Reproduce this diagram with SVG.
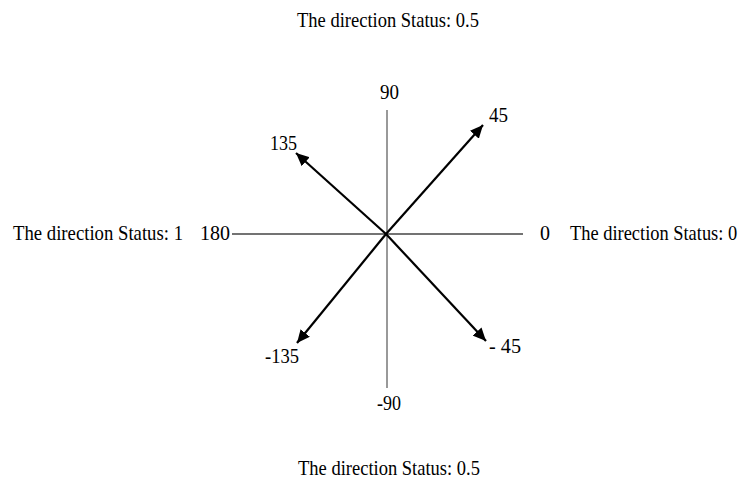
<svg xmlns="http://www.w3.org/2000/svg" width="746" height="483" viewBox="0 0 746 483">
<style>
text{font-family:"Liberation Serif","Times New Roman",serif;font-size:22px;fill:#000}
.axis{stroke:#777;stroke-width:1.5;fill:none}
.axh{stroke:#444;stroke-width:1.5;fill:none}
.arr{stroke:#000;stroke-width:2.2;fill:none;marker-end:url(#ah)}
</style>
<defs>
<marker id="ah" markerUnits="userSpaceOnUse" markerWidth="14" markerHeight="12" refX="13" refY="6" orient="auto">
<path d="M0,0 L13,6 L0,12 Z" fill="#000"/>
</marker>
</defs>
<g id="connectors">
<line class="axis" x1="387" y1="110" x2="387" y2="388"/>
<line class="axh" x1="232" y1="234" x2="523" y2="234"/>
<line class="arr" x1="386" y1="234" x2="483" y2="125"/>
<line class="arr" x1="386" y1="234" x2="296" y2="153"/>
<line class="arr" x1="386" y1="234" x2="297" y2="343"/>
<line class="arr" x1="386" y1="234" x2="486" y2="341"/>
</g>
<g id="label-90"><text x="380" y="99" textLength="19" lengthAdjust="spacingAndGlyphs">90</text></g>
<g id="label-45"><text x="489" y="122" textLength="19" lengthAdjust="spacingAndGlyphs">45</text></g>
<g id="label-135"><text x="270" y="150" textLength="27" lengthAdjust="spacingAndGlyphs">135</text></g>
<g id="label-180"><text x="200" y="240" textLength="30" lengthAdjust="spacingAndGlyphs">180</text></g>
<g id="label-0"><text x="540" y="240" textLength="10" lengthAdjust="spacingAndGlyphs">0</text></g>
<g id="label-m135"><text x="265" y="363" textLength="34" lengthAdjust="spacingAndGlyphs">-135</text></g>
<g id="label-m90"><text x="377" y="410" textLength="24" lengthAdjust="spacingAndGlyphs">-90</text></g>
<g id="label-m45"><text x="489" y="353" textLength="32" lengthAdjust="spacingAndGlyphs">- 45</text></g>
<g id="status-top"><text transform="translate(297,27) scale(0.88,1)" x="0" y="0" textLength="206.8" lengthAdjust="spacingAndGlyphs">The direction Status: 0.5</text></g>
<g id="status-bottom"><text transform="translate(298,475) scale(0.88,1)" x="0" y="0" textLength="206.8" lengthAdjust="spacingAndGlyphs">The direction Status: 0.5</text></g>
<g id="status-left"><text transform="translate(13,240) scale(0.88,1)" x="0" y="0" textLength="193.2" lengthAdjust="spacingAndGlyphs">The direction Status: 1</text></g>
<g id="status-right"><text transform="translate(570,240) scale(0.88,1)" x="0" y="0" textLength="190" lengthAdjust="spacingAndGlyphs">The direction Status: 0</text></g>
</svg>
